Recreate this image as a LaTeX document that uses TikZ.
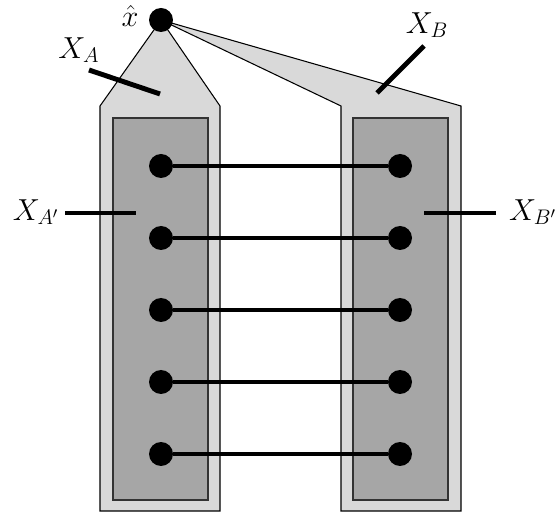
\documentclass[tikz,border=0pt]{standalone}
\usepackage{amsmath, amssymb}
\usetikzlibrary{calc}

\begin{document}
\begin{tikzpicture}[x=0.02cm, y=-0.02cm,
    pt/.style={circle, fill=black, inner sep=0pt, minimum size=0.48cm},
    outerset/.style={draw=black, line width=0.6pt, fill=black!15},
    innerset/.style={draw=black!80, line width=0.6pt, fill=black!35},
    link/.style={line width=2.8pt},
    lbl/.style={font=\fontsize{18}{21}\selectfont, inner sep=0pt}]
                \useasboundingbox (0,0) rectangle (558,516);
                \coordinate (xh) at (161,20);
                % the two outer sets
                \draw[outerset] (xh) -- (100,106) -- (100,511) -- (220,511) -- (220,106) -- cycle;
                \draw[outerset] (xh) -- (341,106) -- (341,511) -- (461,511) -- (461,106) -- cycle;
                \draw[innerset] (113,118) rectangle (208,500);
                \draw[innerset] (353,118) rectangle (448,500);
                \node[pt] (X) at (xh) {};
                \node[lbl] (xhat) at (130,16) {$\hat{x}$};
                % matched points
                \foreach \i/\y in {1/166, 2/238, 3/310, 4/382, 5/454} {
                    \node[pt] (a\i) at (161,\y) {};
                    \node[pt] (b\i) at (400,\y) {};
                    \draw[link] (a\i) -- (b\i);
                }
                % labels
                \node[lbl] (XA) at (79,50) {$X_A$};
                \node[lbl] (XB) at (427,25) {$X_B$};
                \node[lbl] (XAp) at (36,212) {$X_{A'}$};
                \node[lbl] (XBp) at (533,212) {$X_{B'}$};
                \coordinate (pA1) at (89,70);  \coordinate (pA2) at (160,94);
                \coordinate (pB1) at (424,46); \coordinate (pB2) at (377,93);
                \coordinate (pAp1) at (65,213);  \coordinate (pAp2) at (136,213);
                \coordinate (pBp1) at (496,213); \coordinate (pBp2) at (424,213);
                \draw[link] (pA1) -- (pA2);
                \draw[link] (pB1) -- (pB2);
                \draw[link] (pAp1) -- (pAp2);
                \draw[link] (pBp1) -- (pBp2);
\end{tikzpicture}
\end{document}
